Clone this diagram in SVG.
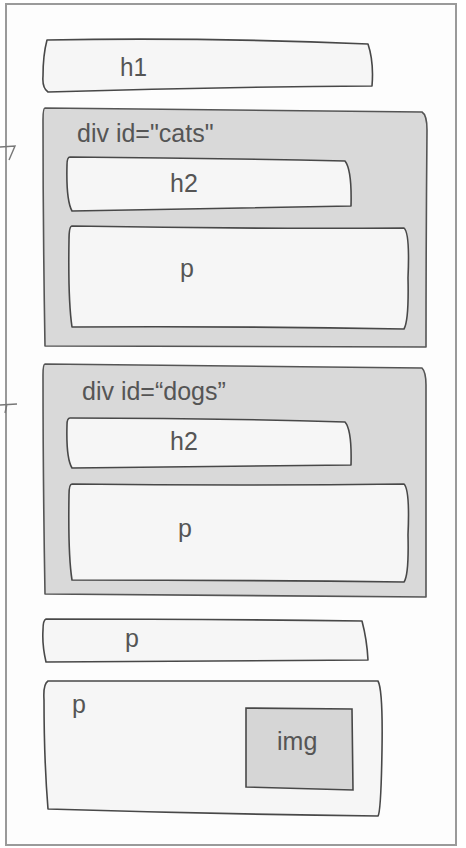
<svg xmlns="http://www.w3.org/2000/svg" width="466" height="848" viewBox="0 0 466 848">
<style>
.box{fill:#f6f6f6;stroke:#484848;stroke-width:1.6;stroke-linejoin:round}
.div{fill:#d9d9d9;stroke:#555;stroke-width:1.6;stroke-linejoin:round}
.img{fill:#d6d6d6;stroke:#484848;stroke-width:1.6}
.t{font-family:"Liberation Sans",Arial,sans-serif;font-size:25px;fill:#555}
.mark{fill:none;stroke:#777;stroke-width:1.4}
</style>
<rect x="0" y="0" width="466" height="848" fill="#ffffff"/>
<rect x="6" y="4" width="450" height="841" fill="#fdfdfd" stroke="#9a9a9a" stroke-width="2"/>
<g id="marks">
<path class="mark" d="M0,147 L15,146 L9,160"/>
<path class="mark" d="M0,405 L17,404 M7,404 L5,413"/>
</g>
<g id="h1">
<path class="box" d="M47,40 Q200,37 368,44 Q374,62 372,86 Q210,87 48,92 Q42,88 43,76 Q43,55 47,40 Z"/>
<text class="t" x="120" y="76" font-size="28" textLength="27" lengthAdjust="spacingAndGlyphs">h1</text>
</g>
<g id="div-cats">
<path class="div" d="M45,108 Q230,110 422,112 Q427,115 427,130 Q426,240 426,347 Q230,346 45,346 Q43,230 43,120 Q43,108 45,108 Z"/>
<text class="t" x="77" y="142">div id="cats"</text>
<g id="cats-h2">
<path class="box" d="M70,157 Q210,158 345,161 Q352,170 351,206 Q210,208 72,211 Q66,200 67,165 Q67,157 70,157 Z"/>
<text class="t" x="170" y="192">h2</text>
</g>
<g id="cats-p">
<path class="box" d="M72,226 Q240,229 404,228 Q410,233 408,278 Q409,320 404,329 Q240,326 72,327 Q68,300 69,240 Q69,226 72,226 Z"/>
<text class="t" x="180" y="277">p</text>
</g>
</g>
<g id="div-dogs">
<path class="div" d="M45,364 Q230,366 422,368 Q426,372 426,385 Q426,490 426,597 Q230,596 45,594 Q43,480 43,375 Q43,364 45,364 Z"/>
<text class="t" x="82" y="400">div id=“dogs”</text>
<g id="dogs-h2">
<path class="box" d="M70,418 Q210,418 345,422 Q352,430 351,465 Q210,466 72,468 Q66,458 67,425 Q67,418 70,418 Z"/>
<text class="t" x="170" y="450">h2</text>
</g>
<g id="dogs-p">
<path class="box" d="M72,484 Q240,486 404,484 Q410,490 408,535 Q409,575 404,582 Q240,580 72,580 Q68,555 69,495 Q69,484 72,484 Z"/>
<text class="t" x="178" y="537">p</text>
</g>
</g>
<g id="p1">
<path class="box" d="M46,619 Q200,619 362,621 Q367,640 368,660 Q200,661 46,662 Q42,645 43,630 Q43,620 46,619 Z"/>
<text class="t" x="125" y="647">p</text>
</g>
<g id="p2">
<path class="box" d="M48,681 Q200,681 378,681 Q383,690 382,750 Q381,812 378,816 Q210,814 48,809 Q44,760 44,700 Q43,684 48,681 Z"/>
<text class="t" x="72" y="713">p</text>
<g id="img">
<path class="img" d="M246,708 L352,709 L353,790 L246,787 Z"/>
<text class="t" x="277" y="750">img</text>
</g>
</g>
</svg>
